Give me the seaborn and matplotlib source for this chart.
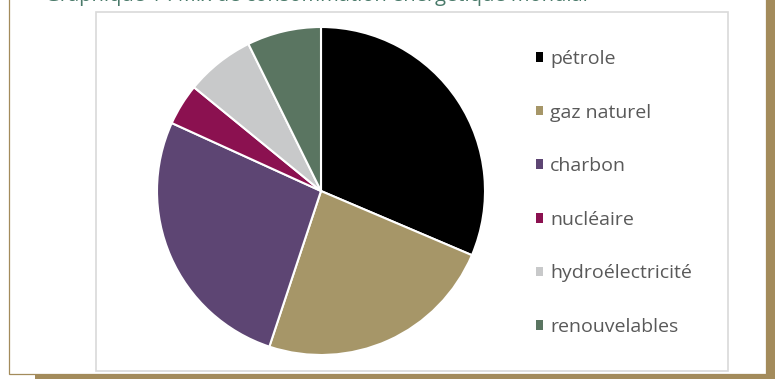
import matplotlib
matplotlib.use("Agg")
import matplotlib.pyplot as plt
from matplotlib.patches import Rectangle, Patch
import seaborn as sns

# Data: world energy consumption mix (%)
sources = ["pétrole", "gaz naturel", "charbon", "nucléaire", "hydroélectricité", "renouvelables"]
shares = [31.4, 23.7, 26.7, 4.1, 6.8, 7.3]
colors = ["#000000", "#a69668", "#5d4573", "#8b1150", "#c8c9ca", "#5a7561"]

title = "Graphique 1 : Mix de consommation énergétique mondial"

sns.set_theme(style="white")
plt.rcParams["font.family"] = ["Open Sans", "DejaVu Sans"]

W, H = 775, 379
fig = plt.figure(figsize=(W / 100, H / 100), dpi=100)
fig.patch.set_facecolor("white")

gold = "#a38b5b"


def px_rect(x0, y0, x1, y1, **kw):
    # rectangle in pixel coordinates (origin top-left), kept behind the axes
    fig.patches.append(Rectangle((x0 / W, 1 - y1 / H), (x1 - x0) / W, (y1 - y0) / H,
                                 transform=fig.transFigure, figure=fig, zorder=-5, **kw))


# gold shadow of the frame
px_rect(766, 0, 775, 379, facecolor=gold, edgecolor="none")
px_rect(35, 373.5, 775, 379, facecolor=gold, edgecolor="none")
# thin gold border of the white panel
px_rect(9, -2, 766, 373.5, facecolor="white", edgecolor=gold, linewidth=0.9)
# chart area box
px_rect(96, 12, 727.5, 371, facecolor="white", edgecolor="#d9d9d9", linewidth=1.2)

# title, mostly cut off by the top of the image
fig.text(45 / W, 1 - 0.5 / H, title, color="#4a7a6a", fontsize=14.5,
         ha="left", va="baseline")

# pie
cx, cy, r = 321, 191, 164
ax = fig.add_axes([(cx - r) / W, 1 - (cy + r) / H, 2 * r / W, 2 * r / H])
ax.set_zorder(2)
wedges, _ = ax.pie(shares, colors=colors, startangle=90, counterclock=False,
                   wedgeprops=dict(edgecolor="white", linewidth=1.5))
ax.set_xlim(-1, 1)
ax.set_ylim(-1, 1)
ax.set_aspect("equal")
ax.axis("off")

# legend
handles = [Patch(facecolor=c, edgecolor="none") for c in colors]
leg = fig.legend(handles, sources, loc="upper left",
                 bbox_to_anchor=(536 / W, 1 - 50 / H), frameon=False,
                 fontsize=14, handlelength=0.37, handleheight=0.37,
                 handletextpad=0.36, labelspacing=1.83, borderaxespad=0,
                 borderpad=0)
for t in leg.get_texts():
    t.set_color("#595959")

fig.savefig("out.png", dpi=100)
